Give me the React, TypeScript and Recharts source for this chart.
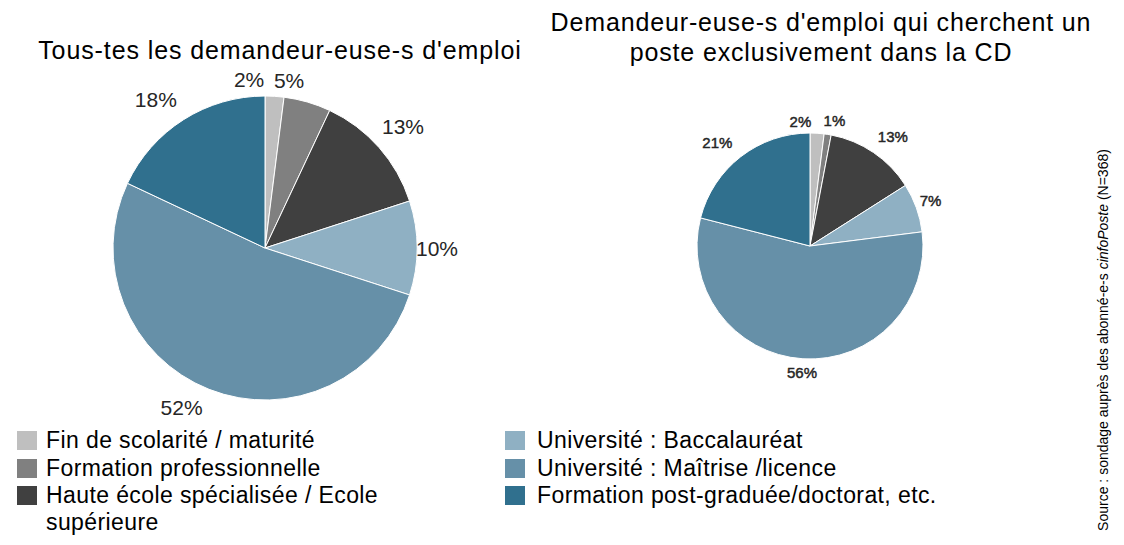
import { PieChart, Pie, Cell } from 'recharts';

const categories = [
  'Fin de scolarité / maturité',
  'Formation professionnelle',
  'Haute école spécialisée / Ecole supérieure',
  'Université : Baccalauréat',
  'Université : Maîtrise /licence',
  'Formation post-graduée/doctorat, etc.',
];
const allSeekers = [2, 5, 13, 10, 52, 18];
const cdOnlySeekers = [2, 1, 13, 7, 56, 21];
const colors = ['#bfbfbf', '#808080', '#404040', '#8fb0c3', '#6690a8', '#30708e'];

const leftData = categories.map((name, i) => ({ name, value: allSeekers[i] }));
const rightData = categories.map((name, i) => ({ name, value: cdOnlySeekers[i] }));

const RAD = Math.PI / 180;
const font = 'Liberation Sans, Arial, sans-serif';

// small per-slice tweaks (angle in degrees, extra radius) so labels don't collide, like Excel's best fit
const leftNudge = [[-9, -3], [-8, -3], [0, 12], [0, 0], [6, 8], [-4, 12]];
const rightNudge = [[-8, -2], [2, 1], [3, 10], [-1, 2], [0, 0], [-4, 12]];

function makeLabel(nudge: number[][], size: number, gap: number, outline: number) {
  return (props: any) => {
    const { cx, cy, midAngle, outerRadius, index, percent } = props;
    const [da, dr] = nudge[index] || [0, 0];
    const a = (midAngle - da) * RAD;
    const r = outerRadius + gap + dr;
    const x = cx + r * Math.cos(a);
    const y = cy - r * Math.sin(a);
    return (
      <text x={x} y={y} textAnchor="middle" dominantBaseline="central"
        fontFamily={font} fontSize={size} fill="#262626"
        stroke="#262626" strokeWidth={outline}>
        {Math.round(percent * 100)}%
      </text>
    );
  };
}

export default function App() {
  return (
    <div style={{ position: 'absolute', left: 0, top: 0, width: 1124, height: 545, background: '#fff', fontFamily: font, color: '#000' }}>
      <PieChart width={1124} height={545} margin={{ top: 0, right: 0, bottom: 0, left: 0 }}
        style={{ position: 'absolute', left: 0, top: 0 }}>
        <Pie data={leftData} dataKey="value" nameKey="name" cx={265} cy={248} outerRadius={152}
          startAngle={90} endAngle={-270} stroke="#fff" strokeWidth={1}
          label={makeLabel(leftNudge, 21, 20, 0)} labelLine={false} isAnimationActive={false}>
          {leftData.map((d, i) => <Cell key={d.name} fill={colors[i]} />)}
        </Pie>
        <Pie data={rightData} dataKey="value" nameKey="name" cx={810} cy={246} outerRadius={113}
          startAngle={90} endAngle={-270} stroke="#fff" strokeWidth={1}
          label={makeLabel(rightNudge, 15, 14, 0.45)} labelLine={false} isAnimationActive={false}>
          {rightData.map((d, i) => <Cell key={d.name} fill={colors[i]} />)}
        </Pie>
      </PieChart>

      <div style={{ position: 'absolute', left: 0, top: 35, width: 560, textAlign: 'center', fontSize: 25, letterSpacing: 0.9, lineHeight: '30px' }}>
        Tous-tes les demandeur-euse-s d'emploi
      </div>
      <div style={{ position: 'absolute', left: 521, top: 7, width: 600, textAlign: 'center', fontSize: 25, letterSpacing: 0.85, lineHeight: '30px' }}>
        Demandeur-euse-s d'emploi qui cherchent un<br />poste exclusivement dans la CD
      </div>

      {categories.map((c, i) => {
        const col = i < 3 ? 0 : 1;
        const row = i % 3;
        return (
          <div key={c} style={{ position: 'absolute', left: col === 0 ? 17 : 505, top: 427 + row * 27.5, width: col === 0 ? 400 : 560, fontSize: 23, letterSpacing: 0.4, lineHeight: '27px', display: 'flex' }}>
            <span style={{ width: 20, height: 19, background: colors[i], marginTop: 4, marginRight: col === 0 ? 9 : 12, flex: 'none' }} />
            <span>{i === 2 ? <>Haute école spécialisée / Ecole<br />supérieure</> : c}</span>
          </div>
        );
      })}

      <div style={{ position: 'absolute', left: 1103, top: 340, transform: 'translate(-50%, -50%) rotate(-90deg)', whiteSpace: 'nowrap', fontSize: 14 }}>
        Source : sondage auprès des abonné-e-s <i>cinfoPoste</i> (N=368)
      </div>
    </div>
  );
}
